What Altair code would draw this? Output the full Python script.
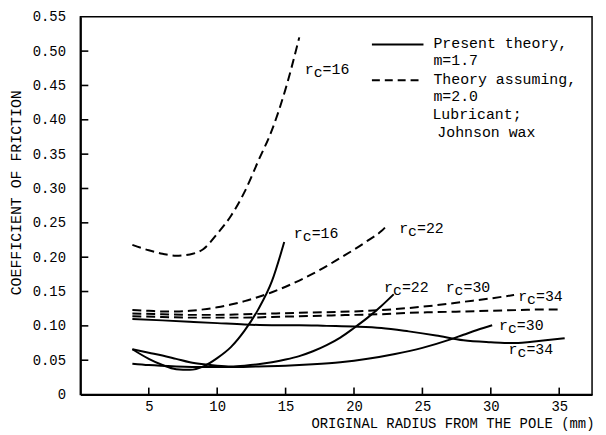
import altair as alt
import pandas as pd

# ---------------- data ----------------
# Present theory, m=1.7 (solid)
s16_x = [3.8, 5, 6, 7, 8, 9, 10, 11, 12, 13, 14, 14.9]
s16_y = [0.066, 0.052, 0.043, 0.037, 0.036, 0.041, 0.053, 0.069, 0.093, 0.124, 0.165, 0.222]

s22_x = [3.8, 5, 6, 7, 8, 9, 10, 11, 12, 13, 14, 15, 16, 17, 18, 19, 20, 21, 22, 22.9]
s22_y = [0.066, 0.061, 0.057, 0.052, 0.047, 0.044, 0.042, 0.041, 0.042, 0.044, 0.047, 0.051, 0.056, 0.063, 0.072, 0.083, 0.097, 0.112, 0.129, 0.146]

s30_x = [3.8, 5, 7, 9, 11, 13, 15, 17, 19, 21, 23, 25, 27, 28, 29, 30.1]
s30_y = [0.045, 0.043, 0.041, 0.040, 0.040, 0.041, 0.042, 0.044, 0.047, 0.052, 0.059, 0.068, 0.080, 0.087, 0.094, 0.101]

s34_x = [3.8, 6, 8, 10, 12, 14, 16, 18, 20, 22, 24, 26, 28, 30, 31, 32, 33, 34, 35.4]
s34_y = [0.110, 0.108, 0.106, 0.104, 0.102, 0.101, 0.101, 0.100, 0.099, 0.097, 0.092, 0.086, 0.079, 0.076, 0.075, 0.075, 0.077, 0.079, 0.082]

# Theory assuming m=2.0 (dashed)
d16_x = [3.8, 5, 6, 7, 8, 9, 10, 11, 12, 13, 14, 15, 16]
d16_y = [0.218, 0.210, 0.205, 0.202, 0.204, 0.212, 0.234, 0.260, 0.295, 0.340, 0.385, 0.445, 0.520]

d22_x = [3.8, 5, 6, 7, 8, 9, 10, 11, 12, 13, 14, 15, 16, 17, 18, 19, 20, 21, 22, 22.4]
d22_y = [0.123, 0.122, 0.121, 0.121, 0.122, 0.124, 0.127, 0.131, 0.136, 0.142, 0.149, 0.157, 0.166, 0.176, 0.187, 0.199, 0.211, 0.224, 0.238, 0.246]

d30_x = [3.8, 6, 8, 10, 12, 14, 16, 18, 20, 22, 24, 26, 28, 30, 31.7]
d30_y = [0.118, 0.117, 0.116, 0.116, 0.117, 0.118, 0.119, 0.120, 0.121, 0.123, 0.126, 0.130, 0.135, 0.140, 0.145]

d34_x = [3.8, 6, 8, 10, 12, 14, 16, 18, 20, 22, 24, 26, 28, 30, 32, 34, 35.2]
d34_y = [0.114, 0.113, 0.112, 0.112, 0.112, 0.113, 0.114, 0.115, 0.116, 0.117, 0.119, 0.120, 0.121, 0.122, 0.123, 0.124, 0.124]

# curve annotations (data units: left edge x, centre y, r_c value)
label_x = [16.4, 15.6, 23.3, 22.2, 26.7, 32.0, 30.6, 31.3]
label_y = [0.474, 0.235, 0.242, 0.156, 0.156, 0.143, 0.101, 0.066]
label_num = ["16", "16", "22", "22", "30", "34", "30", "34"]

x_tick_values = [5, 10, 15, 20, 25, 30, 35]
y_tick_values = [0, 0.05, 0.10, 0.15, 0.20, 0.25, 0.30, 0.35, 0.40, 0.45, 0.50, 0.55]
y_inner_ticks = [0.05, 0.10, 0.15, 0.20, 0.25, 0.30, 0.35, 0.40, 0.45, 0.50]

legend_texts = ["Present theory,", "m=1.7", "Theory assuming,", "m=2.0", "Lubricant;", "Johnson wax"]

x_title = "ORIGINAL RADIUS FROM THE POLE (mm)"
y_title = "COEFFICIENT OF FRICTION"

# ---------------- build tables ----------------
series = [
    ("s16", s16_x, s16_y, "solid"), ("s22", s22_x, s22_y, "solid"),
    ("s30", s30_x, s30_y, "solid"), ("s34", s34_x, s34_y, "solid"),
    ("d16", d16_x, d16_y, "dashed"), ("d22", d22_x, d22_y, "dashed"),
    ("d30", d30_x, d30_y, "dashed"), ("d34", d34_x, d34_y, "dashed"),
]
rows = []
for name, xs, ys, style in series:
    for i, (xv, yv) in enumerate(zip(xs, ys)):
        rows.append({"series": name, "x": xv, "y": yv, "style": style, "i": i})
df = pd.DataFrame(rows)

labels = pd.DataFrame({"lx": label_x, "ly": label_y, "num": ["=" + n for n in label_num]})

W, H = 516, 381
FONT = "Liberation Mono"

xscale = alt.Scale(domain=[0, 37.4], nice=False, zero=False)
yscale = alt.Scale(domain=[0, 0.55], nice=False, zero=False)

x_axis = alt.Axis(
    values=x_tick_values, format="d", tickSize=0, labelPadding=5,
    labelFont=FONT, labelFontSize=14, labelColor="black",
    domainColor="black", domainWidth=2, grid=False,
    title=x_title, titleFont=FONT, titleFontSize=14, titleFontWeight="normal",
    titleColor="black", titleX=518, titleY=29, titleAlign="right", titleBaseline="middle",
)
y_axis = alt.Axis(
    values=y_tick_values,
    labelExpr="datum.value == 0 ? '0' : format(datum.value, '.2f')",
    tickSize=0, labelPadding=15,
    labelFont=FONT, labelFontSize=14, labelColor="black",
    domainColor="black", domainWidth=2, grid=False,
    title=y_title, titleFont=FONT, titleFontSize=15, titleFontWeight="normal",
    titleColor="black", titleX=-57, titleY=177,
)


def X(field):
    return alt.X(field, scale=xscale, axis=x_axis, title=x_title)


def Y(field):
    return alt.Y(field, scale=yscale, axis=y_axis, title=y_title)


solid = alt.Chart(df[df["style"] == "solid"]).mark_line(
    color="black", strokeWidth=2, interpolate="monotone"
).encode(x=X("x:Q"), y=Y("y:Q"), detail="series:N", order="i:Q")

dashed = alt.Chart(df[df["style"] == "dashed"]).mark_line(
    color="black", strokeWidth=2, strokeDash=[9, 5], interpolate="monotone"
).encode(x=X("x:Q"), y=Y("y:Q"), detail="series:N", order="i:Q")

xt = alt.Chart(pd.DataFrame({"v": x_tick_values})).mark_rule(color="black", strokeWidth=1.6).encode(
    x=X("v:Q"), y=alt.value(H), y2=alt.value(H - 7)
)
yt = alt.Chart(pd.DataFrame({"v": y_inner_ticks})).mark_rule(color="black", strokeWidth=1.6).encode(
    y=Y("v:Q"), x=alt.value(0), x2=alt.value(8)
)

lab_kw = dict(font=FONT, fontSize=15, color="black", align="left", baseline="middle")
lab_r = alt.Chart(labels).mark_text(**lab_kw).encode(x=X("lx:Q"), y=Y("ly:Q"), text=alt.value("r"))
lab_c = alt.Chart(labels).mark_text(dx=9, dy=3, **lab_kw).encode(x=X("lx:Q"), y=Y("ly:Q"), text=alt.value("c"))
lab_n = alt.Chart(labels).mark_text(dx=18, **lab_kw).encode(x=X("lx:Q"), y=Y("ly:Q"), text="num:N")

one = pd.DataFrame({"a": [0]})
leg_solid = alt.Chart(one).mark_rule(color="black", strokeWidth=2).encode(
    x=alt.value(294), x2=alt.value(346), y=alt.value(28)
)
leg_dash = alt.Chart(one).mark_rule(color="black", strokeWidth=2, strokeDash=[8, 5]).encode(
    x=alt.value(294), x2=alt.value(346), y=alt.value(64)
)
leg_pos = [(356, 27), (356, 44), (356, 63), (356, 80), (355, 98), (360, 116)]
leg_layers = []
for t, (px, py) in zip(legend_texts, leg_pos):
    leg_layers.append(
        alt.Chart(one).mark_text(font=FONT, fontSize=15, color="black", align="left", baseline="middle").encode(
            x=alt.value(px), y=alt.value(py), text=alt.value(t)
        )
    )

chart = alt.layer(
    solid, dashed, xt, yt, lab_r, lab_c, lab_n, leg_solid, leg_dash, *leg_layers
).properties(
    width=W, height=H,
    padding={"left": 73, "top": 7, "right": 6, "bottom": 46},
    autosize=alt.AutoSizeParams(type="none"),
    background="white",
).configure_view(stroke="black", strokeWidth=1.5)

chart.save("out.html", embed_options={"renderer": "svg", "actions": False})
